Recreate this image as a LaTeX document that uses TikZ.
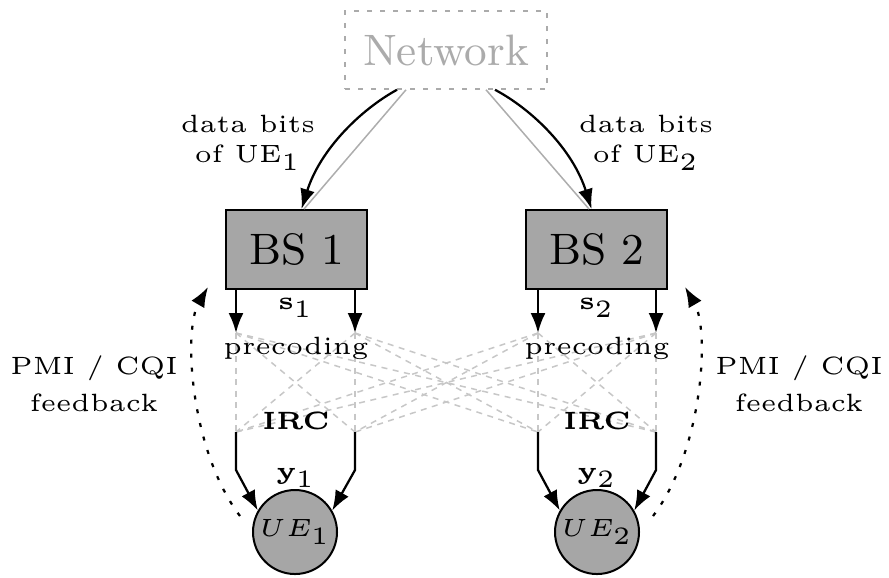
\documentclass[tikz,border=0pt]{standalone}
\usetikzlibrary{arrows.meta}
\definecolor{boxgray}{gray}{0.65}
\definecolor{netgray}{gray}{0.67}
\definecolor{linkgray}{gray}{0.68}
\definecolor{chgray}{gray}{0.78}
\newcommand{\smallfnt}{\fontsize{5}{6}\selectfont}
\newcommand{\bigfnt}{\fontsize{8.8}{10}\selectfont}
\begin{document}
\begin{tikzpicture}[x=0.2pt,y=-0.2pt,
  >={Latex[length=4pt,width=3pt]},
  netbox/.style={draw=netgray, text=netgray, line width=0.3pt, dash pattern=on 1pt off 1.6pt,
    minimum width=40.4pt, minimum height=15.6pt, inner sep=0pt, font=\bigfnt},
  bsbox/.style={draw, line width=0.4pt, fill=boxgray, minimum width=28.2pt,
    minimum height=15.8pt, inner sep=0pt, font=\bigfnt},
  uenode/.style={circle, draw, line width=0.4pt, fill=boxgray, minimum size=16.8pt,
    inner sep=0pt, font=\smallfnt},
  lbl/.style={font=\smallfnt, inner sep=0pt, align=center},
  sig/.style={line width=0.45pt, ->},
  chan/.style={chgray, line width=0.3pt, dash pattern=on 1.2pt off 1.1pt},
  fb/.style={line width=0.45pt, dash pattern=on 0.8pt off 2pt, ->},
  link/.style={linkgray, line width=0.3pt}
]
\useasboundingbox (0,0) rectangle (889,577);

% nodes
\node[netbox] (net) at (446,50) {Network};
\node[bsbox] (bs1) at (296.5,249.5) {BS 1};
\node[bsbox] (bs2) at (596.5,249.5) {BS 2};
\node[uenode] (ue1) at (295,532) {$UE_1$};
\node[uenode] (ue2) at (597,532) {$UE_2$};

% antenna points
\coordinate (t1) at (236,333); \coordinate (t2) at (355,333);
\coordinate (t3) at (538,333); \coordinate (t4) at (656,333);
\coordinate (b1) at (236,432); \coordinate (b2) at (355,432);
\coordinate (b3) at (538,432); \coordinate (b4) at (656,432);
\coordinate (k1) at (236,470); \coordinate (k2) at (355,470);
\coordinate (k3) at (538,470); \coordinate (k4) at (656,470);

% channel
\foreach \a in {t1,t2,t3,t4}
  \foreach \b in {b1,b2,b3,b4}
    \draw[chan] (\a) -- (\b);

% network links
\draw[link] ([xshift=-8pt]net.south) -- ([xshift=1.5pt]bs1.north);
\draw[link] ([xshift=8pt]net.south) -- ([xshift=-1.5pt]bs2.north);
\draw[sig] ([xshift=-9.8pt]net.south) .. controls (360,110) and (320,150) .. ([xshift=1pt]bs1.north);
\draw[sig] ([xshift=9.8pt]net.south) .. controls (533,110) and (573,150) .. ([xshift=-1pt]bs2.north);

% transmit arrows
\draw[sig] (bs1.south -| t1) -- (t1);
\draw[sig] (bs1.south -| t2) -- (t2);
\draw[sig] (bs2.south -| t3) -- (t3);
\draw[sig] (bs2.south -| t4) -- (t4);

% receive arrows
\draw[sig] (b1) -- (k1) -- (ue1.150);
\draw[sig] (b2) -- (k2) -- (ue1.30);
\draw[sig] (b3) -- (k3) -- (ue2.150);
\draw[sig] (b4) -- (k4) -- (ue2.30);

% feedback
\coordinate (f1s) at (240,516); \coordinate (f1e) at (208,287);
\coordinate (f2s) at (653,516); \coordinate (f2e) at (685,287);
\draw[fb] (f1s) .. controls (190,450) and (183,330) .. (f1e);
\draw[fb] (f2s) .. controls (703,450) and (710,330) .. (f2e);

% labels
\node[lbl] (s1) at (296,308) {$\mathbf{s}_1$};
\node[lbl] (s2) at (597,308) {$\mathbf{s}_2$};
\node[lbl] (pc1) at (296,348) {precoding};
\node[lbl] (pc2) at (597,348) {precoding};
\node[lbl] (irc1) at (296,421) {\textbf{IRC}};
\node[lbl] (irc2) at (597,421) {\textbf{IRC}};
\node[lbl] (y1) at (296,478) {$\mathbf{y}_1$};
\node[lbl] (y2) at (597,478) {$\mathbf{y}_2$};
\node[lbl] (d1) at (248,143) {data bits\\of UE$_1$};
\node[lbl] (d2) at (646,143) {data bits\\of UE$_2$};
\node[lbl] (p1) at (94,384) {PMI / CQI\\[1.4pt]feedback};
\node[lbl] (p2) at (799,384) {PMI / CQI\\[1.4pt]feedback};
\end{tikzpicture}
\end{document}
